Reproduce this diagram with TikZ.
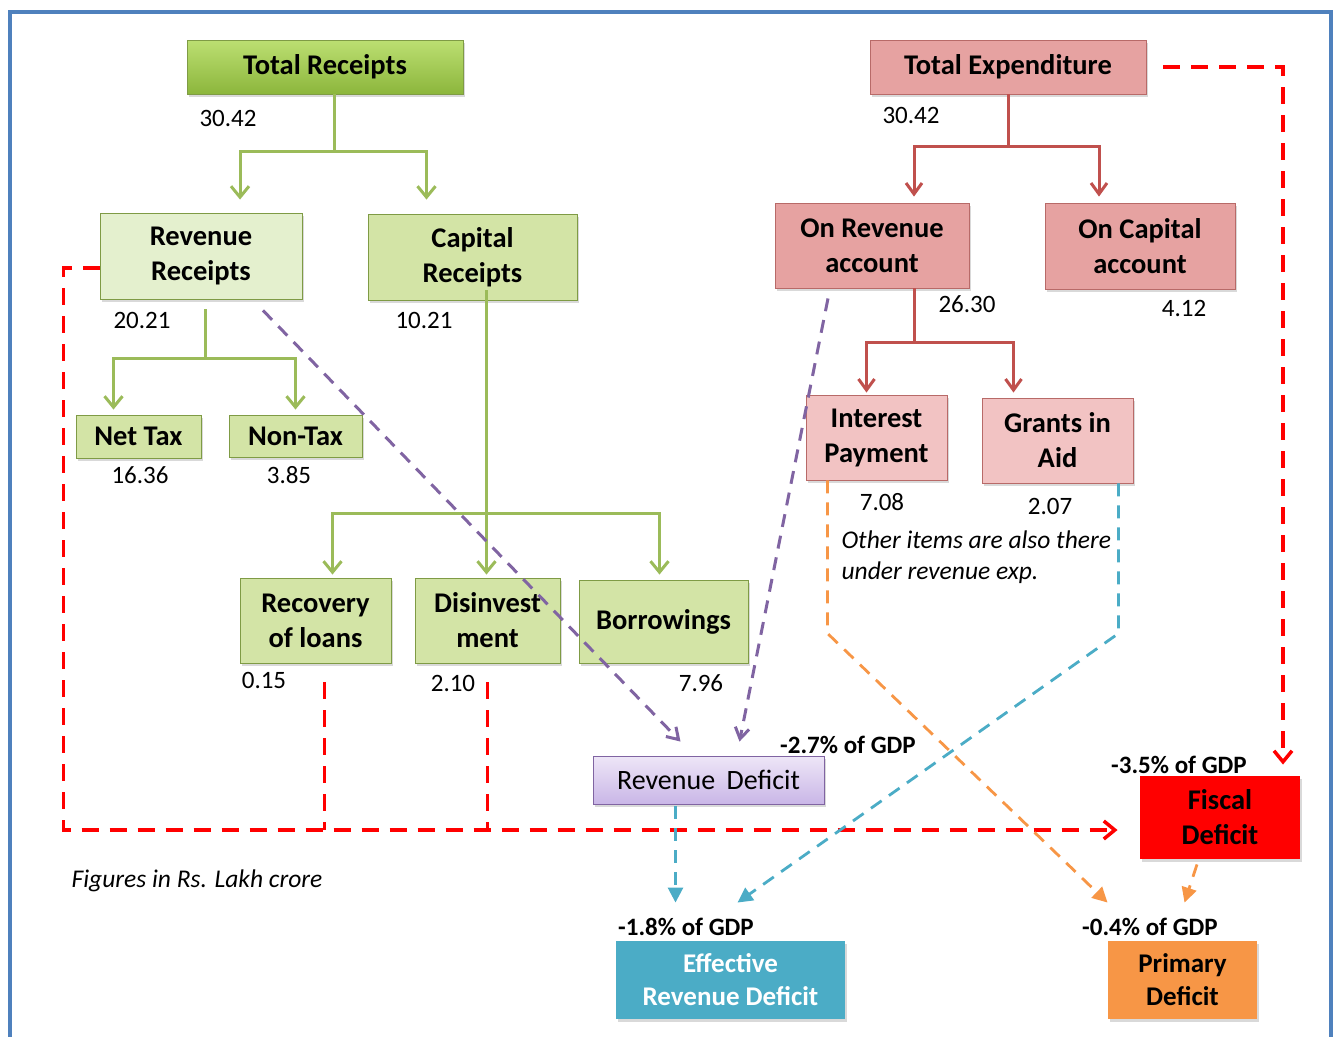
\documentclass[tikz,border=0pt]{standalone}
\usepackage{fontspec}
\setmainfont{Carlito}
\usetikzlibrary{arrows.meta,shadows}

\definecolor{frameblue}{HTML}{4F81BD}
\definecolor{trtop}{HTML}{BCDF72}
\definecolor{trbot}{HTML}{8CB63C}
\definecolor{greenedge}{HTML}{7F9B45}
\definecolor{lgreen}{HTML}{D3E4A6}
\definecolor{pgreen}{HTML}{E4F0CE}
\definecolor{pinkbox}{HTML}{E6A2A1}
\definecolor{lpinkbox}{HTML}{F2C3C3}
\definecolor{pinkedge}{HTML}{B86A68}
\definecolor{gconn}{HTML}{9BBB59}
\definecolor{rconn}{HTML}{C0504D}
\definecolor{rdtop}{HTML}{EEE6F7}
\definecolor{rdbot}{HTML}{C9B6E7}
\definecolor{purp}{HTML}{8064A2}
\definecolor{cyanbox}{HTML}{4BACC6}
\definecolor{orangebox}{HTML}{F79646}

\begin{document}
\begin{tikzpicture}[x=1pt,y=-1pt,
  box/.style={line width=0.9pt,inner sep=0pt,align=center,
    font=\fontsize{28.5}{35}\selectfont\bfseries,
    drop shadow={opacity=0.3,shadow xshift=2pt,shadow yshift=-3pt}},
  tbox/.style={box,draw=greenedge,top color=trtop,bottom color=trbot},
  lgbox/.style={box,draw=greenedge,fill=lgreen},
  pgbox/.style={box,draw=greenedge,fill=pgreen},
  pkbox/.style={box,draw=pinkedge,fill=pinkbox},
  lpkbox/.style={box,draw=pinkedge,fill=lpinkbox},
  num/.style={font=\fontsize{25}{29}\selectfont},
  gdp/.style={font=\fontsize{25}{29}\selectfont\bfseries},
  note/.style={font=\fontsize{25.5}{31}\selectfont\itshape},
  gline/.style={draw=gconn,line width=3pt},
  garrow/.style={gline,-{Straight Barb[length=11pt,width=18pt]}},
  rline/.style={draw=rconn,line width=3pt},
  rarrow/.style={rline,-{Straight Barb[length=11pt,width=16pt]}},
  rdash/.style={draw=red,line width=3.5pt,dash pattern=on 17pt off 11pt},
  rdarrow/.style={rdash,-{Straight Barb[length=11pt,width=18pt]}},
  pdash/.style={draw=purp,line width=3pt,dash pattern=on 13pt off 9pt,-{Straight Barb[length=11pt,width=14pt]}},
  cdash/.style={draw=cyanbox,line width=2.8pt,dash pattern=on 13pt off 9pt,-{Triangle[length=15pt,width=15pt]}},
  odash/.style={draw=orangebox,line width=2.8pt,dash pattern=on 13pt off 9pt,-{Triangle[length=15pt,width=15pt]}}]
\useasboundingbox (0,0) rectangle (1333,1036);

%frame
\draw[frameblue,line width=4pt] (10,1050) -- (10,12) -- (1331,12) -- (1331,1050);

%receipts
\node[tbox, minimum width=276pt, minimum height=54pt] (tr) at (325,67) {Total Receipts};
\node[pgbox, minimum width=202pt, minimum height=86pt] (rr) at (201,256) {Revenue\\Receipts};
\node[lgbox, minimum width=209pt, minimum height=86pt] (cr) at (472.5,257) {Capital\\Receipts};
\node[lgbox, minimum width=125pt, minimum height=43pt] (nt) at (138.5,436.5) {Net Tax};
\node[lgbox, minimum width=133pt, minimum height=42pt] (ntx) at (295.5,436) {Non-Tax};
\node[lgbox, minimum width=151pt, minimum height=85pt] (rl) at (315.5,620.5) {Recovery\\of loans};
\node[lgbox, minimum width=145pt, minimum height=85pt] (dis) at (487.5,620.5) {Disinvest\\ment};
\node[lgbox, minimum width=169pt, minimum height=83pt] (bor) at (663.5,621.5) {Borrowings};

%expenditure
\node[pkbox, minimum width=276pt, minimum height=54pt] (te) at (1008,67) {Total Expenditure};
\node[pkbox, minimum width=194pt, minimum height=85pt] (orev) at (872,245.5) {On Revenue\\account};
\node[pkbox, minimum width=190pt, minimum height=86pt] (ocap) at (1140,246) {On Capital\\account};
\node[lpkbox, minimum width=141pt, minimum height=85pt] (ip) at (876.5,437.5) {Interest\\Payment};
\node[lpkbox, minimum width=151pt, minimum height=85pt] (gia) at (1057.5,440.5) {Grants in\\Aid};

%deficits
\node[box, draw=purp, top color=rdtop, bottom color=rdbot, font=\fontsize{28}{32}\selectfont,
  minimum width=231pt, minimum height=48pt] (rd) at (708.5,780) {Revenue\hspace{5pt} Deficit};
\node[box, fill=red, minimum width=160pt, minimum height=83pt] (fd) at (1220,817.5) {Fiscal\\Deficit};
\node[box, fill=cyanbox, text=white, drop shadow={opacity=0}, font=\fontsize{27}{33}\selectfont\bfseries,
  minimum width=229pt, minimum height=78pt] (erd) at (730.5,980) {Effective\\Revenue Deficit};
\node[box, fill=orangebox, drop shadow={opacity=0}, font=\fontsize{27}{33}\selectfont\bfseries,
  minimum width=149pt, minimum height=78pt] (pd) at (1182.5,980) {Primary\\Deficit};

%figures
\node[num] (vtr) at (228,118) {30.42};
\node[num] (vrr) at (142,320) {20.21};
\node[num] (vcr) at (424,320) {10.21};
\node[num] (vnt) at (140,475) {16.36};
\node[num] (vntx) at (289,475) {3.85};
\node[num] (vrl) at (264,680) {0.15};
\node[num] (vdis) at (453,683) {2.10};
\node[num] (vbor) at (701,683) {7.96};
\node[num] (vte) at (911,115) {30.42};
\node[num] (vorev) at (967,304) {26.30};
\node[num] (vocap) at (1184,308) {4.12};
\node[num] (vip) at (882,502) {7.08};
\node[num] (vgia) at (1050,506) {2.07};
\node[gdp] (grd) at (848,745) {-2.7\% of GDP};
\node[gdp] (gfd) at (1179,765) {-3.5\% of GDP};
\node[gdp] (gerd) at (686,927) {-1.8\% of GDP};
\node[gdp] (gpd) at (1150,927) {-0.4\% of GDP};
\node[note, anchor=west, align=left] (oth) at (838,557) {Other items are also there\\under revenue exp.};
\node[note] (unit) at (197,881) {Figures in Rs. Lakh crore};

%receipts tree
\draw[gline] ([xshift=9pt]tr.south) -- ++(0,57) coordinate (trb);
\draw[garrow] (trb) -| ([xshift=39pt,yshift=13pt]rr.north);
\draw[garrow] (trb) -| ([xshift=-46pt,yshift=14pt]cr.north);
\draw[gline] ([xshift=4pt,yshift=-10pt]rr.south) -- ++(0,49) coordinate (rrb);
\draw[garrow] (rrb) -| ([xshift=-25pt,yshift=5pt]nt.north);
\draw[garrow] (rrb) -| ([yshift=5pt]ntx.north);
\draw[gline] ([xshift=14pt,yshift=10pt]cr.south) -- ++(0,223) coordinate (crb);
\draw[garrow] (crb) -| ([xshift=17pt,yshift=3pt]rl.north);
\draw[garrow] (crb) -- ([yshift=3pt]crb |- dis.north);
\draw[garrow] (crb) -| ([xshift=-4pt,yshift=5pt]bor.north);

%expenditure tree
\draw[rline] (te.south) -- ++(0,52) coordinate (teb);
\draw[rarrow] (teb) -| ([xshift=42pt,yshift=6pt]orev.north);
\draw[rarrow] (teb) -| ([xshift=-41pt,yshift=6pt]ocap.north);
\draw[rline] ([xshift=42pt]orev.south) -- ++(0,54) coordinate (orb);
\draw[rarrow] (orb) -| ([xshift=-10pt,yshift=2pt]ip.north);
\draw[rarrow] (orb) -| ([xshift=-44pt,yshift=5pt]gia.north);

%fiscal deficit
\draw[rdarrow] ([yshift=-12pt]rr.west) -- ++(-36,0) |- ([xshift=-22pt,yshift=-12.5pt]fd.west);
\draw[rdash] ([xshift=9pt,yshift=-19pt]rl.south) -- ++(0,148);
\draw[rdash] ([yshift=-19pt]dis.south) -- ++(0,148);
\draw[rdarrow] ([xshift=17pt]te.east) -| ([xshift=63pt,yshift=11pt]fd.north);

%revenue deficit
\draw[pdash] ([xshift=62pt,yshift=-11pt]rr.south) -- ([xshift=-28pt,yshift=14pt]rd.north);
\draw[pdash] ([xshift=-44pt,yshift=-10pt]orev.south) -- ([xshift=31pt,yshift=14pt]rd.north);

%effective revenue deficit
\draw[cdash] ([xshift=-33pt,yshift=-2pt]rd.south) -- ([xshift=-55pt,yshift=38pt]erd.north);
\draw[cdash] ([xshift=-15pt]gia.south east) -- ++(0,150) -- ([xshift=7pt,yshift=38pt]erd.north);

%primary deficit
\draw[odash] ([xshift=22pt]ip.south west) -- ++(0,153) -- ([xshift=-75pt,yshift=38pt]pd.north);
\draw[odash] ([xshift=-23pt,yshift=-5pt]fd.south) -- ([xshift=2pt,yshift=38pt]pd.north);
\end{tikzpicture}
\end{document}
